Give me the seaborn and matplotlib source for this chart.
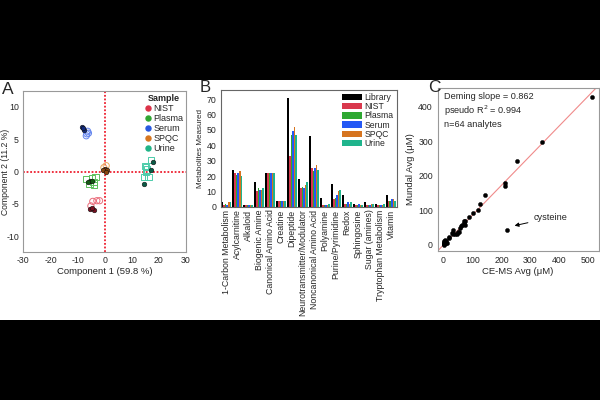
import numpy as np
import pandas as pd
import matplotlib
matplotlib.use("Agg")
import matplotlib.pyplot as plt
from matplotlib.patches import Rectangle, Patch
from matplotlib.lines import Line2D
import seaborn as sns

sns.set_style("white")
plt.rcParams['font.family'] = ['Liberation Sans', 'DejaVu Sans']
plt.rcParams['axes.unicode_minus'] = False

# ---------------- Panel A data (PCA scores) ----------------
samples = ["NIST", "Plasma", "Serum", "SPQC", "Urine"]
legend_colors = ["#dc3148", "#2fa632", "#2758e0", "#d7761f", "#1fb487"]
open_colors = ["#ea6b7a", "#5cc05c", "#6284ee", "#eea860", "#4cccaa"]
dark_colors = ["#7a1020", "#145a14", "#102a80", "#8a4510", "#0a5a45"]

nist_fill_x = [-5.4, -3.8, -4.6]
nist_fill_y = [-5.7, -6.0, -5.6]
nist_open_x = [-4.4, -2.9, -1.9, -5.1]
nist_open_y = [-4.6, -4.5, -4.5, -5.3]

plasma_fill_x = [-5.4, -6.3, -4.7]
plasma_fill_y = [-1.5, -1.6, -1.4]
plasma_open_x = [-6.8, -3.4, -5.6, -3.9, -4.1, -4.6]
plasma_open_y = [-1.1, -0.9, -1.9, -2.1, -1.6, -1.0]

serum_fill_x = [-8.4, -7.8, -8.0]
serum_fill_y = [6.9, 6.4, 6.7]
serum_open_x = [-6.3, -6.8, -6.0, -6.6]
serum_open_y = [6.2, 5.5, 5.9, 5.8]

spqc_fill_x = [0.0, -0.7, 1.0, 0.3]
spqc_fill_y = [0.4, 0.2, 0.2, -0.1]
spqc_open_x = [0.55, -0.3]
spqc_open_y = [0.9, 0.6]

urine_fill_x = [17.9, 17.2, 14.5]
urine_fill_y = [1.4, 0.2, -2.0]
urine_open_x = [17.0, 15.2, 14.6, 16.2, 15.3, 15.6, 15.0]
urine_open_y = [1.8, 0.7, -0.8, -0.8, -0.1, 0.3, 0.9]

fill_xs = [nist_fill_x, plasma_fill_x, serum_fill_x, spqc_fill_x, urine_fill_x]
fill_ys = [nist_fill_y, plasma_fill_y, serum_fill_y, spqc_fill_y, urine_fill_y]
open_xs = [nist_open_x, plasma_open_x, serum_open_x, spqc_open_x, urine_open_x]
open_ys = [nist_open_y, plasma_open_y, serum_open_y, spqc_open_y, urine_open_y]
open_markers = ["o", "s", "o", "o", "s"]

# ---------------- Panel B data ----------------
categories = ["1-Carbon Metabolism", "Acylcarnitine", "Alkaloid", "Biogenic Amine",
              "Canonical Amino Acid", "Creatine", "Dipeptide", "Neurotransmitter/Modulator",
              "Noncanonical Amino Acid", "Polyamine", "Purine/Pyrimidine", "Redox",
              "Sphingosine", "Sugar (amines)", "Tryptophan Metabolism", "Vitamin"]
series_names = ["Library", "NIST", "Plasma", "Serum", "SPQC", "Urine"]
library = [3, 24, 1, 16, 22, 4, 71, 18, 46, 6, 15, 8, 2, 3, 2, 8]
nist    = [1, 22, 1, 10, 22, 4, 33, 12, 25, 1, 5, 2, 1, 1, 1, 4]
plasma  = [2, 21, 1, 12, 22, 4, 47, 13, 23, 1, 6, 2, 1, 1, 1, 4]
serum   = [1, 22, 1, 11, 22, 4, 49, 12, 25, 1, 8, 3, 2, 1, 1, 5]
spqc    = [3, 23, 1, 11, 22, 4, 52, 14, 27, 1, 10, 2, 1, 2, 1, 5]
urine   = [3, 20, 1, 12, 22, 4, 47, 16, 24, 2, 11, 3, 1, 2, 2, 4]
bar_colors = ["#000000", "#d9384d", "#2ea832", "#2458f5", "#d6741f", "#1fb48c"]

# ---------------- Panel C data ----------------
cems_avg = [513, 341, 252, 212, 211, 144, 125, 120, 102, 89, 73, 71, 75, 70, 60, 58, 63,
            51, 52, 48, 34, 32, 39, 30, 20, 18, 8, 6, 5, 4, 3, 2, 2, 1, 1, 0.5, 0.5, 10, 12, 219]
mundal_avg = [429, 298, 244, 180, 170, 145, 118, 102, 91, 81, 68, 63, 57, 70, 55, 49, 58,
              36, 38, 33, 31, 42, 33, 35, 20, 22, 10, 14, 5, 8, 3, 12, 6, 2, 9, 1, 4, 7, 5, 44]
deming_slope = 0.862

# ---------------- Figure ----------------
fig = plt.figure(figsize=(6, 4), dpi=100)
fig.patch.set_facecolor("black")
fig.add_artist(Rectangle((0, 0.2), 1, 0.6, transform=fig.transFigure,
                         facecolor="white", edgecolor="none", zorder=-10))

tick_fs = 6.3
spine_col = "#999999"

# Panel A
axA = fig.add_axes([0.039, 0.37, 0.271, 0.4025])
for i, s in enumerate(samples):
    dfo = pd.DataFrame({"x": open_xs[i], "y": open_ys[i]})
    sns.scatterplot(data=dfo, x="x", y="y", ax=axA, marker=open_markers[i], s=20,
                    facecolor="none", edgecolor=open_colors[i], linewidth=0.7, legend=False)
    dff = pd.DataFrame({"x": fill_xs[i], "y": fill_ys[i]})
    sns.scatterplot(data=dff, x="x", y="y", ax=axA, marker="o", s=11,
                    color=dark_colors[i], edgecolor="#111111", linewidth=0.4, legend=False)
axA.axvline(0, color="#ee2030", ls=(0, (1, 1)), lw=1.3, zorder=0)
axA.axhline(0, color="#ee2030", ls=(0, (1, 1)), lw=1.3, zorder=0)
axA.set_xlim(-30, 30)
axA.set_ylim(-12.4, 12.4)
axA.set_xticks(range(-30, 31, 10))
axA.set_yticks([-10, -5, 0, 5, 10])
axA.set_xlabel("Component 1 (59.8 %)", fontsize=6.8, labelpad=1)
axA.set_ylabel("Component 2 (11.2 %)", fontsize=6.2)
axA.yaxis.set_label_coords(-0.082, 0.5)
axA.tick_params(labelsize=tick_fs, length=2, pad=1.2, color=spine_col)
for sp in axA.spines.values():
    sp.set_color(spine_col); sp.set_linewidth(0.8)
handles = [Line2D([0], [0], marker="o", ls="none", color=c, markersize=3.6) for c in legend_colors]
legA = axA.legend(handles, samples, title="Sample", loc="upper right", frameon=False,
                  fontsize=6.5, title_fontproperties={"weight": "bold", "size": 6.5},
                  handletextpad=0.1, labelspacing=0.12, borderaxespad=0.1, handlelength=1,
                  borderpad=0.2)

# Panel B
dfB = pd.DataFrame({"Category": categories, "Library": library, "NIST": nist,
                    "Plasma": plasma, "Serum": serum, "SPQC": spqc, "Urine": urine})
dfB_long = dfB.melt(id_vars="Category", var_name="Series", value_name="Count")
axB = fig.add_axes([0.368, 0.483, 0.293, 0.292])
sns.barplot(data=dfB_long, x="Category", y="Count", hue="Series", order=categories,
            hue_order=series_names, palette=bar_colors, ax=axB, width=0.88,
            saturation=1, linewidth=0)
axB.set_ylim(0, 76)
axB.set_yticks(range(0, 71, 10))
axB.set_xlim(-0.5, len(categories) - 0.5)
axB.set_xlabel("")
axB.set_ylabel("Metabolites Measured", fontsize=5.8, labelpad=2)
axB.tick_params(axis="y", labelsize=tick_fs, length=2, pad=1)
axB.tick_params(axis="x", labelsize=6.3, length=0, pad=2)
axB.set_xticks(range(len(categories)))
axB.set_xticklabels(categories, rotation=90)
for sp in axB.spines.values():
    sp.set_color("#666666"); sp.set_linewidth(0.8)
handlesB = [Patch(facecolor=c, edgecolor="none") for c in bar_colors]
axB.legend(handlesB, series_names, loc="upper right", frameon=False, fontsize=6.2,
           handlelength=2.3, handleheight=0.75, handletextpad=0.3, labelspacing=0.02,
           borderaxespad=0.15, borderpad=0.2)

# Panel C
dfC = pd.DataFrame({"CE-MS": cems_avg, "Mundal": mundal_avg})
axC = fig.add_axes([0.7295, 0.373, 0.268, 0.407])
xs_line = np.array([-20, 535])
axC.plot(xs_line, deming_slope * xs_line, color="#f08a8a", lw=0.8, zorder=1)
sns.scatterplot(data=dfC, x="CE-MS", y="Mundal", ax=axC, color="black", s=9,
                edgecolor="black", linewidth=0.3, zorder=3, legend=False)
axC.set_xlim(-20, 535)
axC.set_ylim(-17, 454)
axC.set_xticks(range(0, 501, 100))
axC.set_yticks(range(0, 401, 100))
axC.set_xlabel("CE-MS Avg (\u03bcM)", fontsize=6.8, labelpad=2)
axC.set_ylabel("Mundal Avg (\u03bcM)", fontsize=6.8, labelpad=2)
axC.tick_params(labelsize=tick_fs, length=2, pad=1.5, color=spine_col)
for sp in axC.spines.values():
    sp.set_color(spine_col); sp.set_linewidth(0.8)
axC.text(0.04, 0.975, "Deming slope = 0.862\npseudo R$^2$ = 0.994\nn=64 analytes",
         transform=axC.transAxes, ha="left", va="top", fontsize=6.6, linespacing=1.25)
axC.annotate("cysteine", xy=(236, 54), xytext=(312, 79), fontsize=6.6,
             ha="left", va="center",
             arrowprops=dict(arrowstyle="-|>", color="black", lw=0.7, mutation_scale=6))

# Panel letters
fig.text(0.003, 0.795, "A", fontsize=12.5, ha="left", va="top")
fig.text(0.333, 0.799, "B", fontsize=12, ha="left", va="top")
fig.text(0.713, 0.799, "C", fontsize=12.5, ha="left", va="top")

fig.savefig("out.png", dpi=100, facecolor="black")
